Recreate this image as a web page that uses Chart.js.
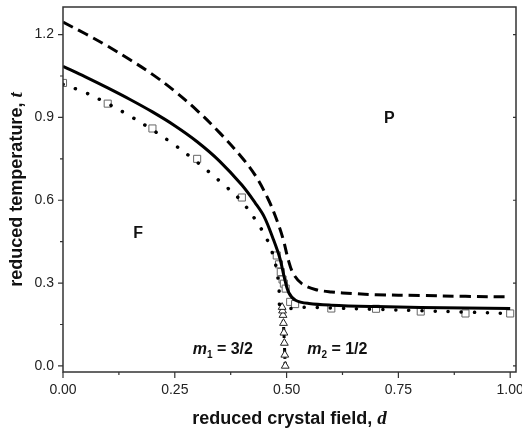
<!DOCTYPE html>
<html>
<head>
<meta charset="utf-8">
<script src="https://cdn.jsdelivr.net/npm/chart.js@4"></script>
<style>
  html, body { margin: 0; padding: 0; background: #fff; }
  #wrap { width: 522px; height: 432px; }
</style>
</head>
<body>
<div id="wrap"><canvas id="phaseChart" width="522" height="432"></canvas></div>
<script>
// Axis ticks
const xTicks = [0, 0.25, 0.5, 0.75, 1.0];
const yTicks = [0, 0.3, 0.6, 0.9, 1.2];

// Dashed curve (upper)
const dashedD = [0, 0.05, 0.1, 0.15, 0.2, 0.25, 0.3, 0.35, 0.4, 0.43, 0.46, 0.48, 0.493, 0.504, 0.515, 0.534, 0.564, 0.6, 0.65, 0.7, 0.8, 0.9, 1.0];
const dashedT = [1.245, 1.203, 1.158, 1.109, 1.056, 0.995, 0.925, 0.845, 0.755, 0.69, 0.6, 0.52, 0.455, 0.383, 0.334, 0.298, 0.277, 0.268, 0.262, 0.258, 0.255, 0.252, 0.25];

// Solid curve
const solidD = [0, 0.05, 0.1, 0.15, 0.2, 0.25, 0.3, 0.35, 0.4, 0.43, 0.45, 0.47, 0.485, 0.495, 0.505, 0.52, 0.55, 0.6, 0.7, 0.8, 0.9, 1.0];
const solidT = [1.085, 1.047, 1.007, 0.965, 0.92, 0.87, 0.812, 0.742, 0.655, 0.59, 0.54, 0.46, 0.39, 0.32, 0.265, 0.238, 0.226, 0.22, 0.215, 0.212, 0.21, 0.208];

// Dotted curve
const dottedD = [0, 0.05, 0.1, 0.15, 0.2, 0.25, 0.3, 0.35, 0.4, 0.44, 0.46, 0.475, 0.483, 0.488, 0.55, 0.6, 0.7, 0.8, 0.9, 1.0];
const dottedT = [1.02, 0.99, 0.95, 0.905, 0.855, 0.80, 0.738, 0.67, 0.595, 0.505, 0.445, 0.37, 0.29, 0.215, 0.213, 0.21, 0.205, 0.20, 0.195, 0.19];

// Open squares
const squareD = [0, 0.1, 0.2, 0.3, 0.4, 0.478, 0.483, 0.487, 0.491, 0.494, 0.498, 0.508, 0.519, 0.6, 0.7, 0.8, 0.9, 1.0];
const squareT = [1.025, 0.95, 0.86, 0.75, 0.61, 0.40, 0.368, 0.34, 0.313, 0.298, 0.28, 0.232, 0.224, 0.208, 0.207, 0.197, 0.19, 0.19];

// Open triangles on the vertical boundary
const triD = [0.497, 0.496, 0.495, 0.494, 0.493, 0.492, 0.491, 0.49];
const triT = [0, 0.04, 0.083, 0.12, 0.155, 0.184, 0.2, 0.213];

function pts(xs, ys) {
  return xs.map((x, i) => ({ x, y: ys[i] }));
}

const sansFont = '"Liberation Sans", Arial, sans-serif';
const serifFont = '"Liberation Serif", "Times New Roman", serif';

// Frame, tick marks, titles and labels
const decorPlugin = {
  id: 'decor',
  afterDraw(chart) {
    const ctx = chart.ctx;
    const xs = chart.scales.x;
    const ys = chart.scales.y;
    const a = chart.chartArea;
    ctx.save();
    ctx.strokeStyle = '#333';
    ctx.lineWidth = 1.5;
    ctx.strokeRect(a.left, a.top, a.right - a.left, a.bottom - a.top);

    ctx.lineWidth = 1.2;
    ctx.beginPath();
    for (let v = 0; v <= 1.0001; v += 0.125) {
      const px = xs.getPixelForValue(v);
      const major = Math.abs(v / 0.25 - Math.round(v / 0.25)) < 1e-6;
      ctx.moveTo(px, a.bottom);
      ctx.lineTo(px, a.bottom + (major ? 6 : 3));
    }
    for (let v = 0; v <= 1.2001; v += 0.15) {
      const py = ys.getPixelForValue(v);
      const major = Math.abs(v / 0.3 - Math.round(v / 0.3)) < 1e-6;
      ctx.moveTo(a.left, py);
      ctx.lineTo(a.left - (major ? 5 : 3), py);
      if (major) {
        ctx.moveTo(a.right, py);
        ctx.lineTo(a.right - 3, py);
      }
    }
    ctx.stroke();

    ctx.fillStyle = '#111';
    ctx.textBaseline = 'alphabetic';

    // x title
    const xPart1 = 'reduced crystal field, ';
    ctx.font = 'bold 18px ' + sansFont;
    const w1 = ctx.measureText(xPart1).width;
    ctx.font = 'italic bold 19px ' + serifFont;
    const w2 = ctx.measureText('d').width;
    let cx = (a.left + a.right) / 2 - (w1 + w2) / 2;
    ctx.font = 'bold 18px ' + sansFont;
    ctx.fillText(xPart1, cx, 424);
    ctx.font = 'italic bold 19px ' + serifFont;
    ctx.fillText('d', cx + w1, 424);

    // y title
    const yPart1 = 'reduced temperature, ';
    ctx.font = 'bold 18px ' + sansFont;
    const h1 = ctx.measureText(yPart1).width;
    ctx.font = 'italic bold 19px ' + serifFont;
    const h2 = ctx.measureText('t').width;
    ctx.translate(22, (a.top + a.bottom) / 2);
    ctx.rotate(-Math.PI / 2);
    const sy = -(h1 + h2) / 2;
    ctx.font = 'bold 18px ' + sansFont;
    ctx.fillText(yPart1, sy, 0);
    ctx.font = 'italic bold 19px ' + serifFont;
    ctx.fillText('t', sy + h1, 0);
    ctx.setTransform(1, 0, 0, 1, 0, 0);

    // region labels
    ctx.font = 'bold 16px ' + sansFont;
    ctx.textAlign = 'center';
    ctx.fillText('P', xs.getPixelForValue(0.73), ys.getPixelForValue(0.9) + 6);
    ctx.fillText('F', xs.getPixelForValue(0.168), ys.getPixelForValue(0.484) + 6);
    ctx.textAlign = 'left';

    function mLabel(d, sub, rest) {
      let px = xs.getPixelForValue(d);
      const base = 354;
      ctx.font = 'italic bold 16px ' + sansFont;
      ctx.fillText('m', px, base);
      px += ctx.measureText('m').width;
      ctx.font = 'bold 10px ' + sansFont;
      ctx.fillText(sub, px, base + 4);
      px += ctx.measureText(sub).width;
      ctx.font = 'bold 16px ' + sansFont;
      ctx.fillText(rest, px, base);
    }
    mLabel(0.29, '1', ' = 3/2');
    mLabel(0.546, '2', ' = 1/2');
    ctx.restore();
  }
};

new Chart(document.getElementById('phaseChart'), {
  type: 'scatter',
  data: {
    datasets: [
      {
        label: 'dashed',
        data: pts(dashedD, dashedT),
        showLine: true,
        borderColor: '#000',
        borderWidth: 3,
        borderDash: [11, 6],
        pointRadius: 0,
        tension: 0.35
      },
      {
        label: 'solid',
        data: pts(solidD, solidT),
        showLine: true,
        borderColor: '#000',
        borderWidth: 3,
        pointRadius: 0,
        tension: 0.35
      },
      {
        label: 'dotted',
        data: pts(dottedD, dottedT),
        showLine: true,
        borderColor: '#000',
        borderWidth: 3.5,
        borderDash: [0.1, 13],
        borderCapStyle: 'round',
        pointRadius: 0,
        tension: 0.35
      },
      {
        label: 'squares',
        data: pts(squareD, squareT),
        showLine: false,
        pointStyle: 'rect',
        pointRadius: 5,
        pointBackgroundColor: '#fff',
        pointBorderColor: '#666',
        pointBorderWidth: 1
      },
      {
        label: 'triangles',
        data: pts(triD, triT),
        showLine: true,
        borderColor: '#000',
        borderWidth: 3,
        borderDash: [4, 3],
        pointStyle: 'triangle',
        pointRadius: 4.5,
        pointBackgroundColor: '#fff',
        pointBorderColor: '#222',
        pointBorderWidth: 1
      }
    ]
  },
  options: {
    responsive: false,
    animation: false,
    layout: { padding: { top: 7, right: 6, left: 0, bottom: 0 } },
    plugins: {
      legend: { display: false },
      tooltip: { enabled: false }
    },
    scales: {
      x: {
        type: 'linear',
        min: 0,
        max: 1.013,
        afterBuildTicks: s => { s.ticks = xTicks.map(v => ({ value: v })); },
        afterFit: s => { s.height = 60; s.paddingLeft = 0; s.paddingRight = 0; },
        border: { display: false },
        grid: { drawOnChartArea: false, color: 'rgba(0,0,0,0)', tickLength: 6 },
        ticks: {
          padding: 4,
          color: '#222',
          font: { family: sansFont, size: 14 },
          maxRotation: 0,
          callback: v => v.toFixed(2)
        }
      },
      y: {
        type: 'linear',
        min: -0.022,
        max: 1.30,
        afterBuildTicks: s => { s.ticks = yTicks.map(v => ({ value: v })); },
        afterFit: s => { s.width = 63; s.paddingTop = 0; s.paddingBottom = 0; },
        border: { display: false },
        grid: { drawOnChartArea: false, color: 'rgba(0,0,0,0)', tickLength: 5 },
        ticks: {
          padding: 4,
          color: '#222',
          font: { family: sansFont, size: 14 },
          callback: v => v.toFixed(1)
        }
      }
    }
  },
  plugins: [decorPlugin]
});
</script>
</body>
</html>
